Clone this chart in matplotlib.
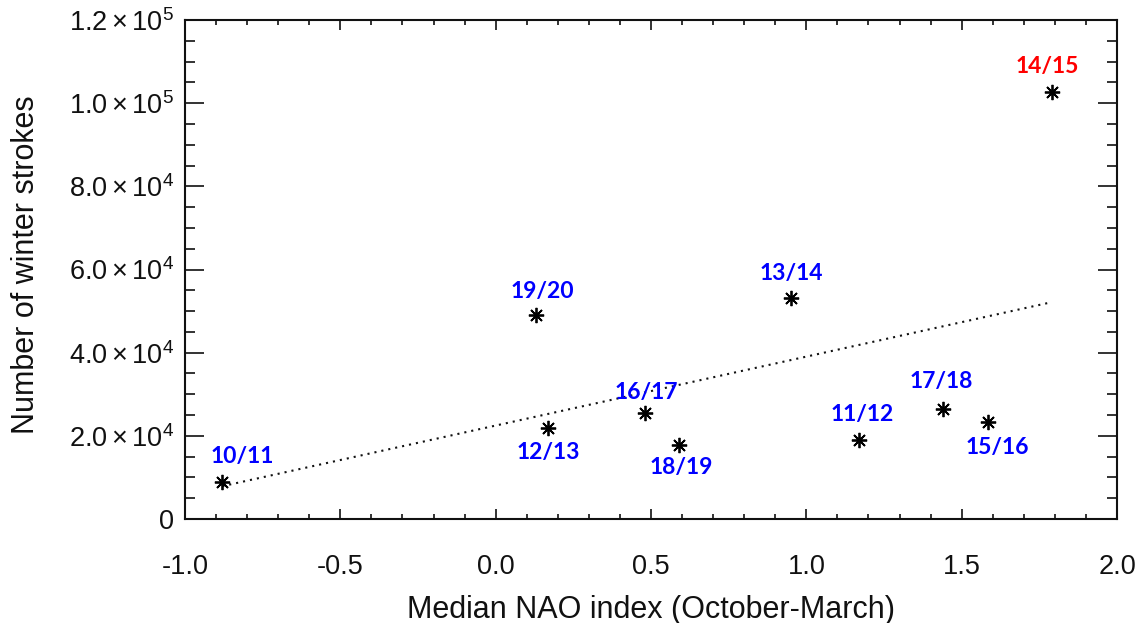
import matplotlib
matplotlib.use("Agg")
import matplotlib.pyplot as plt
from matplotlib.ticker import MultipleLocator, FixedLocator
import numpy as np

# ---- data ----
seasons = ['10/11', '11/12', '12/13', '13/14', '14/15', '15/16', '16/17', '17/18', '18/19', '19/20']
nao_index = [-0.88, 1.17, 0.17, 0.95, 1.79, 1.585, 0.48, 1.44, 0.59, 0.13]
winter_strokes = [9000, 19000, 21800, 53200, 102800, 23400, 25400, 26500, 17700, 49000]
highlight = '14/15'
y_ticks = [0, 20000, 40000, 60000, 80000, 100000, 120000]
y_tick_labels = ['0', r'$2.0\times10^{4}$', r'$4.0\times10^{4}$', r'$6.0\times10^{4}$',
                 r'$8.0\times10^{4}$', r'$1.0\times10^{5}$', r'$1.2\times10^{5}$']
x_ticks = [-1.0, -0.5, 0.0, 0.5, 1.0, 1.5, 2.0]
x_tick_labels = ['-1.0', '-0.5', '0.0', '0.5', '1.0', '1.5', '2.0']

# label offsets (points) relative to each marker
label_offsets = {
    '10/11': (14.4, 18), '12/13': (0, -17.3), '19/20': (4.3, 17.3), '16/17': (1.4, 15.1),
    '13/14': (0.7, 17.3), '18/19': (1.4, -15.8), '11/12': (2.2, 18), '15/16': (6.5, -18.7),
    '17/18': (-1.4, 19.4), '14/15': (-3.6, 18),
}

plt.rcParams['font.family'] = ['Liberation Sans', 'DejaVu Sans']
plt.rcParams['mathtext.fontset'] = 'custom'
plt.rcParams['mathtext.rm'] = 'Liberation Sans'
plt.rcParams['mathtext.it'] = 'Liberation Sans:italic'
plt.rcParams['mathtext.bf'] = 'Liberation Sans:bold'
plt.rcParams['mathtext.default'] = 'regular'

fig = plt.figure(figsize=(11.4, 6.23), dpi=100)
ax = fig.add_axes([185/1140, 104/623, 932/1140, 499/623])

ink = '#111111'

# trend line (least squares)
coef = np.polyfit(nao_index, winter_strokes, 1)
xs = np.array([min(nao_index), max(nao_index)])
ax.plot(xs, np.polyval(coef, xs), color=ink, lw=1.5, linestyle=(0, (1, 2.4)), zorder=2)

ax.plot(nao_index, winter_strokes, linestyle='none', marker=(8, 2, 0), ms=11, mew=1.3,
        color='black', zorder=3)

for s, x, y in zip(seasons, nao_index, winter_strokes):
    dx, dy = label_offsets[s]
    ax.annotate(s, (x, y), xytext=(dx, dy), textcoords='offset points', ha='center', va='center',
                color='red' if s == highlight else 'blue', fontsize=16.5, fontweight='bold',
                family=['Lato', 'DejaVu Sans'])

ax.set_xlim(-1.0, 2.0)
ax.set_ylim(0, 120000)
ax.xaxis.set_major_locator(FixedLocator(x_ticks))
ax.set_xticklabels(x_tick_labels)
ax.xaxis.set_minor_locator(MultipleLocator(0.1))
ax.yaxis.set_major_locator(FixedLocator(y_ticks))
ax.set_yticklabels(y_tick_labels)
ax.yaxis.set_minor_locator(MultipleLocator(5000))

ax.tick_params(axis='both', which='both', direction='in', top=True, right=True, colors=ink,
               labelcolor=ink)
ax.tick_params(axis='x', which='major', length=7, width=1.2, labelsize=19.5, pad=25)
ax.tick_params(axis='x', which='minor', length=3.6, width=1.2)
ax.tick_params(axis='y', which='major', length=13.5, width=1.2, labelsize=19.5, pad=8)
ax.tick_params(axis='y', which='minor', length=7, width=1.2)

for sp in ax.spines.values():
    sp.set_linewidth(1.5)
    sp.set_color(ink)

ax.set_xlabel('Median NAO index (October-March)', fontsize=22, color=ink)
ax.set_ylabel('Number of winter strokes', fontsize=22, color=ink)
ax.xaxis.set_label_coords(0.5, -0.152)
ax.yaxis.set_label_coords(-0.1545, 0.509)

fig.savefig('out.png', dpi=100)
